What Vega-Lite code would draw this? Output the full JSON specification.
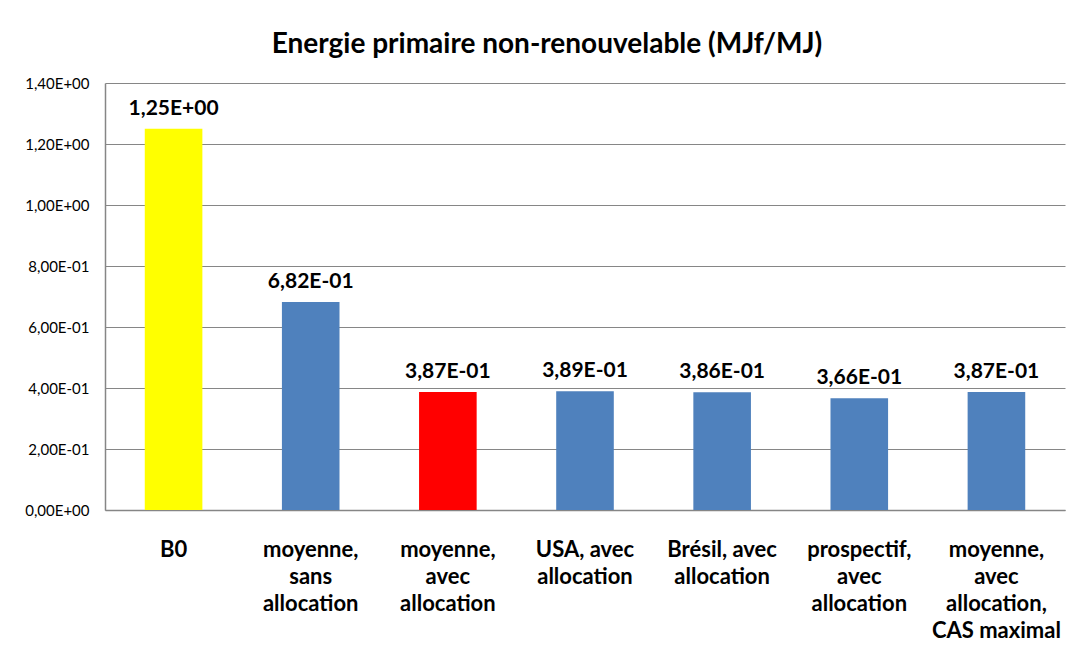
{
  "$schema": "https://vega.github.io/schema/vega-lite/v6.json",
  "autosize": {"type": "none"},
  "width": 960,
  "height": 427,
  "padding": {"left": 105, "top": 83, "right": 4, "bottom": 145},
  "background": "white",
  "title": {
    "text": "Energie primaire non-renouvelable (MJf/MJ)",
    "font": "Lato",
    "fontSize": 28,
    "fontWeight": "bold",
    "color": "black",
    "anchor": "middle",
    "frame": "group",
    "dx": -38,
    "offset": 17
  },
  "data": {
    "values": [
      {"scenario": "B0", "value": 1.25},
      {"scenario": "moyenne,\nsans\nallocation", "value": 0.682},
      {"scenario": "moyenne,\navec\nallocation", "value": 0.387},
      {"scenario": "USA, avec\nallocation", "value": 0.389},
      {"scenario": "Brésil, avec\nallocation", "value": 0.386},
      {"scenario": "prospectif,\navec\nallocation", "value": 0.366},
      {"scenario": "moyenne,\navec\nallocation,\nCAS maximal", "value": 0.387}
    ]
  },
  "transform": [
    {
      "calculate": "replace(substring(format(datum.value,'.2e'),0,4),'.',',') + 'E' + substring(format(datum.value,'.2e'),5,6) + pad(substring(format(datum.value,'.2e'),6),2,'0','left')",
      "as": "label"
    }
  ],
  "encoding": {
    "x": {
      "field": "scenario",
      "type": "nominal",
      "sort": null,
      "scale": {"paddingInner": 0.58, "paddingOuter": 0.29},
      "axis": {
        "title": null,
        "labelAngle": 0,
        "labelFont": "Lato",
        "labelFontSize": 22,
        "labelFontWeight": "bold",
        "labelColor": "black",
        "labelPadding": 29,
        "labelLineHeight": 27,
        "labelLimit": 0,
        "labelBaseline": "top",
        "labelExpr": "split(datum.label, '\\n')",
        "ticks": false,
        "domainColor": "#868686",
        "domainWidth": 1.5
      }
    },
    "y": {
      "field": "value",
      "type": "quantitative",
      "scale": {"domain": [0, 1.4], "nice": false},
      "axis": {
        "title": null,
        "values": [0, 0.2, 0.4, 0.6, 0.8, 1.0, 1.2, 1.4],
        "labelExpr": "replace(substring(format(datum.value,'.2e'),0,4),'.',',') + 'E' + substring(format(datum.value,'.2e'),5,6) + pad(substring(format(datum.value,'.2e'),6),2,'0','left')",
        "labelFont": "Lato",
        "labelFontSize": 15,
        "labelColor": "black",
        "labelPadding": 16,
        "ticks": false,
        "domainColor": "#868686",
        "domainWidth": 1.5,
        "grid": true,
        "gridColor": "#868686",
        "gridWidth": 1
      }
    }
  },
  "layer": [
    {
      "mark": {"type": "bar"},
      "encoding": {
        "color": {
          "field": "scenario",
          "type": "nominal",
          "legend": null,
          "scale": {
            "domain": [
              "B0",
              "moyenne,\nsans\nallocation",
              "moyenne,\navec\nallocation",
              "USA, avec\nallocation",
              "Brésil, avec\nallocation",
              "prospectif,\navec\nallocation",
              "moyenne,\navec\nallocation,\nCAS maximal"
            ],
            "range": ["#FFFF00", "#4F81BD", "#FF0000", "#4F81BD", "#4F81BD", "#4F81BD", "#4F81BD"]
          }
        }
      }
    },
    {
      "mark": {
        "type": "text",
        "font": "Lato",
        "fontSize": 21,
        "fontWeight": "bold",
        "color": "black",
        "baseline": "bottom",
        "dy": -10
      },
      "encoding": {"text": {"field": "label"}}
    }
  ],
  "config": {"view": {"stroke": null}}
}
